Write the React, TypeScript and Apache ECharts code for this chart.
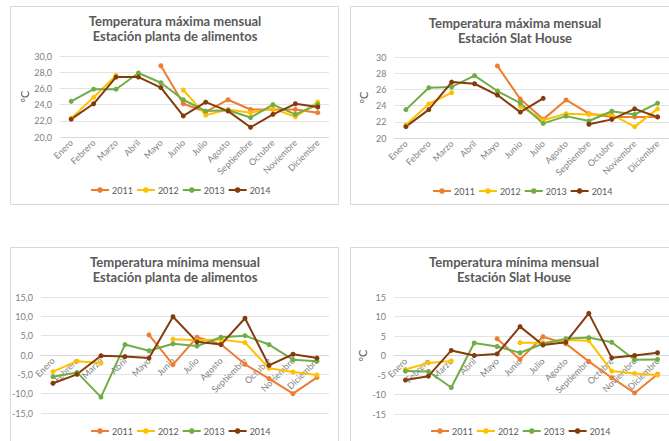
import React, { useEffect, useRef } from "react";
import * as echarts from "echarts";

const months = ["Enero", "Febrero", "Marzo", "Abril", "Mayo", "Junio", "Julio", "Agosto", "Septiembre", "Octubre", "Noviembre", "Diciembre"];
const years = ["2011", "2012", "2013", "2014"];
const colors = ["#ED7D31", "#FFC000", "#70AD47", "#843C0C"];

const maxPlanta2011 = [null, null, null, null, 28.8, 24.1, 23.1, 24.6, 23.4, 23.4, 23.4, 23.0];
const maxPlanta2012 = [22.3, 24.9, 27.6, null, null, 25.8, 22.7, 23.4, 23.0, 23.5, 22.5, 24.3];
const maxPlanta2013 = [24.4, 25.9, 25.9, 27.9, 26.7, 24.6, 23.2, 23.3, 22.4, 24.0, 22.8, 24.0];
const maxPlanta2014 = [22.2, 24.1, 27.4, 27.4, 26.1, 22.6, 24.3, 23.2, 21.2, 22.8, 24.1, 23.7];

const maxSlat2011 = [null, null, null, null, 28.9, 24.8, 22.3, 24.7, 23.0, 22.6, 22.6, 22.6];
const maxSlat2012 = [21.6, 24.2, 25.6, null, null, 23.9, 22.2, 23.0, 22.9, 22.9, 21.4, 23.6];
const maxSlat2013 = [23.5, 26.2, 26.3, 27.7, 25.8, 24.3, 21.8, 22.7, 22.1, 23.3, 22.9, 24.3];
const maxSlat2014 = [21.4, 23.5, 26.9, 26.7, 25.3, 23.2, 24.9, null, 21.7, 22.3, 23.6, 22.6];

const minPlanta2011 = [null, null, null, null, 5.2, -2.5, 4.6, 2.8, -2.4, -6.1, -10.0, -5.8];
const minPlanta2012 = [-4.3, -1.6, -2.1, null, null, 4.1, 3.8, 4.0, 3.2, -3.4, -4.4, -5.2];
const minPlanta2013 = [-5.6, -4.5, -10.9, 2.7, 1.1, 2.9, 2.3, 4.6, 5.0, 2.7, -1.2, -1.6];
const minPlanta2014 = [-7.3, -5.0, -0.2, -0.4, -0.8, 9.9, 3.4, 2.7, 9.5, -2.7, 0.2, -0.8];

const minSlat2011 = [null, null, null, null, 4.3, -1.0, 4.8, 3.0, -1.5, -5.7, -9.6, -4.8];
const minSlat2012 = [-3.6, -1.9, -1.4, null, null, 3.3, 3.3, 4.0, 3.8, -4.0, -4.6, -5.0];
const minSlat2013 = [-4.0, -4.1, -8.2, 3.2, 2.3, 0.7, 3.0, 4.3, 4.6, 3.4, -1.1, -1.0];
const minSlat2014 = [-6.3, -5.3, 1.3, 0.0, 0.4, 7.4, 2.7, 3.4, 10.8, -0.6, 0.0, 0.7];

const panelData = [
  [maxPlanta2011, maxPlanta2012, maxPlanta2013, maxPlanta2014],
  [maxSlat2011, maxSlat2012, maxSlat2013, maxSlat2014],
  [minPlanta2011, minPlanta2012, minPlanta2013, minPlanta2014],
  [minSlat2011, minSlat2012, minSlat2013, minSlat2014],
];

const titles = [
  "Temperatura máxima mensual\nEstación planta de alimentos",
  "Temperatura máxima mensual\nEstación Slat House",
  "Temperatura mínima mensual\nEstación planta de alimentos",
  "Temperatura mínima mensual\nEstación Slat House",
];

const FONT = "Lato, 'Open Sans', sans-serif";

export default function App() {
  const ref = useRef<HTMLDivElement>(null);
  useEffect(() => {
    if (!ref.current) return;
    const chart = echarts.init(ref.current, undefined, { renderer: "svg" });

    const grids = [
      { left: 60, top: 56, width: 269, height: 81 },
      { left: 394.5, top: 57, width: 275, height: 81 },
      { left: 41, top: 297, width: 288, height: 116 },
      { left: 394, top: 297, width: 275, height: 117 },
    ];
    const titlePos = [
      { x: 175, y: 13 },
      { x: 515, y: 15 },
      { x: 175, y: 254 },
      { x: 514, y: 254 },
    ];
    const legendPos = [
      { x: 90, y: 185.5 },
      { x: 432, y: 186.5 },
      { x: 90, y: 426.5 },
      { x: 430, y: 426.5 },
    ];
    const yCfg = [
      { min: 20, max: 30, interval: 2, dec: true, name: "ºC", gap: 29 },
      { min: 20, max: 30, interval: 2, dec: false, name: "ºC", gap: 26 },
      { min: -15, max: 15, interval: 5, dec: true, name: "", gap: 0 },
      { min: -15, max: 15, interval: 5, dec: false, name: "ºC", gap: 26 },
    ];
    const xOffset = [0, 0, -58, -58.5];

    const series: any[] = [];
    panelData.forEach((arrs, p) => {
      arrs.forEach((d, i) => {
        series.push({
          type: "line",
          name: years[i],
          xAxisIndex: p,
          yAxisIndex: p,
          data: d,
          symbol: "circle",
          symbolSize: 5,
          lineStyle: { width: 2, color: colors[i] },
          itemStyle: { color: colors[i] },
          connectNulls: false,
        });
      });
    });

    const option: any = {
      animation: false,
      color: colors,
      title: titles.map((t, p) => ({
        text: t,
        left: titlePos[p].x,
        top: titlePos[p].y,
        padding: 0,
        textAlign: "center",
        textStyle: { fontFamily: FONT, fontSize: 13, fontWeight: "bold", color: "#595959", lineHeight: 15 },
      })),
      legend: legendPos.map((lp) => ({
        data: years,
        left: lp.x,
        top: lp.y,
        padding: 0,
        itemWidth: 18,
        itemHeight: 7,
        itemGap: 3,
        textStyle: { fontFamily: FONT, fontSize: 9, color: "#595959", padding: [0, 0, 0, -2] },
      })),
      grid: grids,
      xAxis: grids.map((_, p) => ({
        type: "category",
        gridIndex: p,
        data: months,
        boundaryGap: true,
        position: "bottom",
        offset: xOffset[p],
        axisLine: { show: true, onZero: false, lineStyle: { color: "#D9D9D9" } },
        axisTick: { show: false },
        axisLabel: {
          rotate: 45,
          interval: 0,
          margin: 4,
          fontFamily: FONT,
          fontSize: 9,
          color: "#7F7F7F",
        },
      })),
      yAxis: yCfg.map((c, p) => ({
        type: "value",
        gridIndex: p,
        min: c.min,
        max: c.max,
        interval: c.interval,
        name: c.name,
        nameLocation: "middle",
        nameGap: c.gap,
        nameRotate: 90,
        nameTextStyle: { fontFamily: FONT, fontSize: 11, color: "#595959" },
        axisLine: { show: false },
        axisTick: { show: false },
        splitLine: { lineStyle: { color: "#E3E3E3" } },
        axisLabel: {
          fontFamily: FONT,
          fontSize: 9,
          color: "#808080",
          margin: 8,
          formatter: (v: number) => (c.dec ? v.toFixed(1).replace(".", ",") : String(v)),
        },
      })),
      graphic: [
        { type: "rect", shape: { x: 10.5, y: 6.5, width: 328, height: 198 }, style: { fill: "none", stroke: "#D9D9D9", lineWidth: 1 } },
        { type: "rect", shape: { x: 350.5, y: 6.5, width: 330, height: 198 }, style: { fill: "none", stroke: "#D9D9D9", lineWidth: 1 } },
        { type: "rect", shape: { x: 10.5, y: 247.5, width: 328, height: 210 }, style: { fill: "none", stroke: "#D9D9D9", lineWidth: 1 } },
        { type: "rect", shape: { x: 350.5, y: 247.5, width: 330, height: 210 }, style: { fill: "none", stroke: "#D9D9D9", lineWidth: 1 } },
      ],
      series,
    };
    chart.setOption(option);
    return () => chart.dispose();
  }, []);
  return (
    <div
      ref={ref}
      style={{ position: "fixed", left: 0, top: 0, width: 669, height: 441, background: "#fff" }}
    />
  );
}
